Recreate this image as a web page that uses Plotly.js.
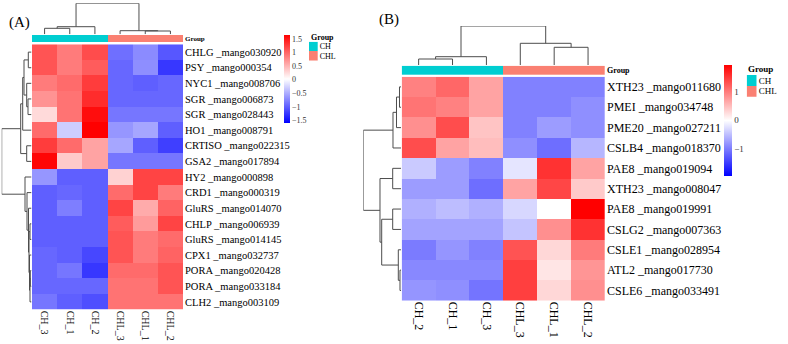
<!DOCTYPE html>
<html><head><meta charset="utf-8">
<script src="https://cdn.plot.ly/plotly-3.0.1.min.js"></script>
<style>html,body{margin:0;padding:0;background:#fff}</style>
</head><body><div id="chart" style="width:788px;height:344px"></div>
<script>
// ---------- DATA ----------
const colsA = ['CH_3','CH_1','CH_2','CHL_3','CHL_1','CHL_2'];
const groupsA = ['CH','CH','CH','CHL','CHL','CHL'];
const rowsA = ['CHLG _mango030920','PSY _mango000354','NYC1 _mango008706','SGR _mango006873','SGR _mango028443',
  'HO1 _mango008791','CRTISO _mango022315','GSA2 _mango017894','HY2 _mango000898','CRD1 _mango000319',
  'GluRS _mango014070','CHLP _mango006939','GluRS _mango014145','CPX1 _mango032737','PORA _mango020428',
  'PORA _mango033184','CLH2 _mango003109'];
const valsA = [
  [1.10, 0.85, 1.15, -0.90, -0.72, -1.05],
  [1.10, 0.85, 1.05, -0.95, -0.70, -1.25],
  [0.85, 0.95, 1.25, -0.95, -1.00, -0.95],
  [0.70, 0.90, 1.35, -0.95, -0.95, -0.95],
  [0.25, 0.90, 1.55, -0.85, -0.85, -0.85],
  [0.95, -0.30, 1.63, -0.65, -0.55, -1.00],
  [1.25, 0.95, 0.60, -0.55, -1.00, -1.20],
  [1.60, 0.35, 0.60, -0.85, -0.85, -0.85],
  [-0.65, -1.00, -1.00, 0.30, 1.20, 1.20],
  [-1.00, -0.95, -1.00, 0.95, 1.20, 0.85],
  [-1.00, -0.80, -1.00, 1.20, 0.55, 1.00],
  [-1.00, -1.00, -1.00, 1.05, 0.65, 1.20],
  [-1.00, -1.00, -1.00, 1.10, 0.85, 0.95],
  [-0.95, -1.00, -1.15, 1.10, 0.85, 1.00],
  [-0.95, -0.85, -1.25, 0.95, 0.95, 1.10],
  [-0.95, -0.95, -0.95, 0.90, 0.90, 1.10],
  [-0.85, -1.00, -1.10, 0.90, 0.90, 0.90]
];
// merges: [left node, right node, height]; new node id = n + merge index
const colTreeA = [[0,1,6],[6,2,7.6],[4,5,3.3],[3,8,3.6],[7,9,31]];
const rowTreeA = [[0,1,3.2],[3,4,3.5],[2,18,4.8],[17,19,7.5],[20,5,8.8],[6,7,4.8],[21,22,10.8],
  [14,15,1.2],[24,16,1.5],[13,25,2],[11,12,1.5],[27,26,2.5],[10,28,3],[9,29,4.5],[8,30,6.5],[23,31,29.8]];
const colorTicksA = [-1.5,-1,-0.5,0,0.5,1,1.5];

const colsB = ['CH_2','CH_1','CH_3','CHL_3','CHL_1','CHL_2'];
const groupsB = ['CH','CH','CH','CHL','CHL','CHL'];
const rowsB = ['XTH23 _mango011680','PMEI _mango034748','PME20 _mango027211','CSLB4 _mango018370',
  'PAE8 _mango019094','XTH23 _mango008047','PAE8 _mango019991','CSLG2 _mango007363',
  'CSLE1 _mango028954','ATL2 _mango017730','CSLE6 _mango033491'];
const valsB = [
  [0.95, 1.15, 0.70, -0.95, -0.95, -0.95],
  [1.05, 0.95, 0.70, -0.95, -0.95, -0.85],
  [0.85, 1.35, 0.45, -0.95, -0.75, -0.85],
  [1.35, 0.70, 0.50, -0.85, -1.10, -0.55],
  [-0.40, -0.75, -0.95, -0.20, 1.55, 0.70],
  [-0.75, -0.75, -1.10, 0.70, 1.40, 0.40],
  [-0.60, -0.50, -0.60, -0.30, 0.00, 1.93],
  [-0.70, -0.70, -0.70, -0.45, 0.85, 1.55],
  [-1.00, -0.80, -0.95, 1.30, 0.30, 1.00],
  [-0.90, -0.90, -0.90, 1.45, 0.20, 0.80],
  [-0.80, -0.85, -1.05, 1.45, 0.30, 0.85]
];
const colTreeB = [[0,1,6],[6,2,8.3],[4,5,17.7],[3,8,21.7],[7,9,39]];
const rowTreeB = [[0,1,1.5],[11,2,4.5],[12,3,8],[4,5,8.3],[6,7,8.3],[9,10,1],[8,16,2.7],[15,17,19.3],[14,18,21],[13,19,37.7]];
const colorTicksB = [-1,0,1];

const groupNames = ['CH','CHL'];
const groupColors = ['#00CED1','#FA8072'];

// ---------- HELPERS ----------
const W = 788, H = 344;
const fx = p => p / W;
const fy = p => 1 - p / H;
const SERIF = "'Liberation Serif', 'Times New Roman', serif";
const LINE = '#4d4d4d';

function dendro(n, merges){
  const pos = [], ht = [];
  for (let i = 0; i < n; i++){ pos[i] = i; ht[i] = 0; }
  const a = [], b = [];
  merges.forEach((m, k) => {
    const [l, r, h] = m; const id = n + k;
    a.push(pos[l], pos[l], pos[r], pos[r], null);
    b.push(ht[l], h, h, ht[r], null);
    pos[id] = (pos[l] + pos[r]) / 2; ht[id] = h;
  });
  return {a, b};
}
const idx = arr => arr.map((_, i) => i);
const maxH = t => Math.max(...t.map(m => m[2]));
const rwb = [[0,'#0000FF'],[0.5,'#FFFFFF'],[1,'#FF0000']];
const grpScale = [[0,groupColors[0]],[0.5,groupColors[0]],[0.5,groupColors[1]],[1,groupColors[1]]];

const hidden = {showgrid:false, zeroline:false, showline:false, showticklabels:false, ticks:'', fixedrange:true};

const traces = [];
// ---- Panel A ----
traces.push({type:'heatmap', x:idx(colsA), y:idx(rowsA), z:valsA, xaxis:'x', yaxis:'y',
  colorscale:rwb, zmin:-1.6, zmax:1.63, hoverinfo:'skip',
  colorbar:{x:fx(284.3), xanchor:'left', y:fy(79.2), yanchor:'middle', len:88.3, lenmode:'pixels',
    thickness:6, thicknessmode:'pixels', xpad:0, ypad:0, outlinewidth:0, ticks:'',
    tickvals:colorTicksA, tickfont:{family:SERIF, size:8, color:'#333'}, ticklabelstandoff:1}});
traces.push({type:'heatmap', x:idx(colsA), y:[0], z:[groupsA.map(g => groupNames.indexOf(g))],
  xaxis:'x', yaxis:'y4', colorscale:grpScale, zmin:0, zmax:1, showscale:false, hoverinfo:'skip'});
const dcA = dendro(colsA.length, colTreeA);
traces.push({type:'scatter', mode:'lines', x:dcA.a, y:dcA.b, xaxis:'x', yaxis:'y3',
  line:{color:LINE, width:1}, hoverinfo:'skip', connectgaps:false});
const drA = dendro(rowsA.length, rowTreeA);
traces.push({type:'scatter', mode:'lines', x:drA.b, y:drA.a, xaxis:'x2', yaxis:'y',
  line:{color:LINE, width:1}, hoverinfo:'skip', connectgaps:false});
traces.push({type:'heatmap', x:[0], y:[0,1], z:[[0],[1]], xaxis:'x5', yaxis:'y8',
  colorscale:grpScale, zmin:0, zmax:1, showscale:false, hoverinfo:'skip'});

// ---- Panel B ----
traces.push({type:'heatmap', x:idx(colsB), y:idx(rowsB), z:valsB, xaxis:'x3', yaxis:'y5',
  colorscale:rwb, zmin:-1.93, zmax:1.93, hoverinfo:'skip',
  colorbar:{x:fx(724.3), xanchor:'left', y:fy(120.3), yanchor:'middle', len:110.7, lenmode:'pixels',
    thickness:7.5, thicknessmode:'pixels', xpad:0, ypad:0, outlinewidth:0, ticks:'',
    tickvals:colorTicksB, tickfont:{family:SERIF, size:9, color:'#333'}, ticklabelstandoff:1}});
traces.push({type:'heatmap', x:idx(colsB), y:[0], z:[groupsB.map(g => groupNames.indexOf(g))],
  xaxis:'x3', yaxis:'y7', colorscale:grpScale, zmin:0, zmax:1, showscale:false, hoverinfo:'skip'});
const dcB = dendro(colsB.length, colTreeB);
traces.push({type:'scatter', mode:'lines', x:dcB.a, y:dcB.b, xaxis:'x3', yaxis:'y6',
  line:{color:LINE, width:1}, hoverinfo:'skip', connectgaps:false});
const drB = dendro(rowsB.length, rowTreeB);
traces.push({type:'scatter', mode:'lines', x:drB.b, y:drB.a, xaxis:'x4', yaxis:'y5',
  line:{color:LINE, width:1}, hoverinfo:'skip', connectgaps:false});
traces.push({type:'heatmap', x:[0], y:[0,1], z:[[0],[1]], xaxis:'x6', yaxis:'y9',
  colorscale:grpScale, zmin:0, zmax:1, showscale:false, hoverinfo:'skip'});

const layout = {
  width:W, height:H, margin:{l:0,r:0,t:0,b:0}, showlegend:false,
  paper_bgcolor:'#fff', plot_bgcolor:'rgba(0,0,0,0)', font:{family:SERIF, color:'#000'},
  // A heatmap
  xaxis:{domain:[fx(32), fx(183)], anchor:'y', range:[-0.5,5.5], tickvals:idx(colsA), ticktext:colsA,
    tickangle:90, ticks:'', showgrid:false, zeroline:false, showline:false, fixedrange:true,
    tickfont:{family:SERIF, size:10}, ticklabelstandoff:0},
  yaxis:{domain:[fy(309.7), fy(44.3)], anchor:'x', range:[rowsA.length-0.5,-0.5], tickvals:idx(rowsA), ticktext:rowsA,
    side:'right', ticks:'', showgrid:false, zeroline:false, showline:false, fixedrange:true,
    tickfont:{family:SERIF, size:10.5}, ticklabelstandoff:1},
  xaxis2:Object.assign({domain:[fx(1.7), fx(31.5)], anchor:'y', range:[maxH(rowTreeA), 0]}, hidden),
  yaxis3:Object.assign({domain:[fy(34.3), fy(3.3)], anchor:'x', range:[0, maxH(colTreeA)]}, hidden),
  yaxis4:{domain:[fy(42), fy(35)], anchor:'x', range:[-0.5,0.5], tickvals:[0], ticktext:['<b>Group</b>'],
    side:'right', ticks:'', showgrid:false, zeroline:false, showline:false, fixedrange:true,
    tickfont:{family:SERIF, size:7}, ticklabelstandoff:1},
  xaxis5:Object.assign({domain:[fx(309), fx(317.7)], anchor:'y8', range:[-0.5,0.5]}, hidden),
  yaxis8:{domain:[fy(60.7), fy(41.7)], anchor:'x5', range:[1.5,-0.5], tickvals:[0,1], ticktext:groupNames,
    side:'right', ticks:'', showgrid:false, zeroline:false, showline:false, fixedrange:true,
    tickfont:{family:SERIF, size:8}, ticklabelstandoff:1},
  // B heatmap
  xaxis3:{domain:[fx(401.7), fx(605)], anchor:'y5', range:[-0.5,5.5], tickvals:idx(colsB), ticktext:colsB,
    tickangle:90, ticks:'', showgrid:false, zeroline:false, showline:false, fixedrange:true,
    tickfont:{family:SERIF, size:12}, ticklabelstandoff:0},
  yaxis5:{domain:[fy(300.7), fy(76.7)], anchor:'x3', range:[rowsB.length-0.5,-0.5], tickvals:idx(rowsB), ticktext:rowsB,
    side:'right', ticks:'', showgrid:false, zeroline:false, showline:false, fixedrange:true,
    tickfont:{family:SERIF, size:12}, ticklabelstandoff:1},
  xaxis4:Object.assign({domain:[fx(363.3), fx(401)], anchor:'y5', range:[maxH(rowTreeB), 0]}, hidden),
  yaxis6:Object.assign({domain:[fy(65), fy(26)], anchor:'x3', range:[0, maxH(colTreeB)]}, hidden),
  yaxis7:{domain:[fy(75), fy(65.7)], anchor:'x3', range:[-0.5,0.5], tickvals:[0], ticktext:['<b>Group</b>'],
    side:'right', ticks:'', showgrid:false, zeroline:false, showline:false, fixedrange:true,
    tickfont:{family:SERIF, size:8}, ticklabelstandoff:1},
  xaxis6:Object.assign({domain:[fx(746.7), fx(756.7)], anchor:'y9', range:[-0.5,0.5]}, hidden),
  yaxis9:{domain:[fy(96.7), fy(75)], anchor:'x6', range:[1.5,-0.5], tickvals:[0,1], ticktext:groupNames,
    side:'right', ticks:'', showgrid:false, zeroline:false, showline:false, fixedrange:true,
    tickfont:{family:SERIF, size:9}, ticklabelstandoff:1},
  annotations:[
    {text:'(A)', xref:'paper', yref:'paper', x:fx(7), y:fy(22), xanchor:'left', yanchor:'middle', showarrow:false,
      font:{family:SERIF, size:15}},
    {text:'(B)', xref:'paper', yref:'paper', x:fx(377), y:fy(20), xanchor:'left', yanchor:'middle', showarrow:false,
      font:{family:SERIF, size:15}},
    {text:'<b>Group</b>', xref:'paper', yref:'paper', x:fx(308.5), y:fy(37.5), xanchor:'left', yanchor:'middle', showarrow:false,
      font:{family:SERIF, size:8}},
    {text:'<b>Group</b>', xref:'paper', yref:'paper', x:fx(746), y:fy(68.5), xanchor:'left', yanchor:'middle', showarrow:false,
      font:{family:SERIF, size:9}}
  ]
};
Plotly.newPlot('chart', traces, layout, {displayModeBar:false, staticPlot:true});
</script></body></html>
